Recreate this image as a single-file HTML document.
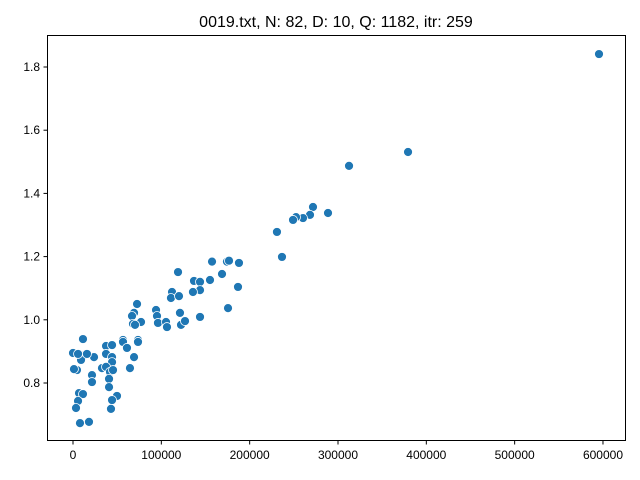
<!DOCTYPE html>
<html><head><meta charset="utf-8"><style>body{margin:0;background:#fff}svg{display:block;font-family:"Liberation Sans","DejaVu Sans",sans-serif}</style></head>
<body>
<svg id="chart" width="640" height="480">
<text x="336" y="27" text-anchor="middle" font-size="16">0019.txt, N: 82, D: 10, Q: 1182, itr: 259</text>
<g id="pts"></g>
<rect x="47.5" y="35.5" width="578" height="405" fill="none" stroke="#000" stroke-width="1"/>
<g id="ax"></g>
</svg>
<script>
const xs=[595500,312500,379300,271700,288700,268300,260400,252500,249100,230900,236600,157400,174300,176600,187900,118900,168700,155100,137000,143800,143800,135800,186800,112100,110900,120000,72500,175500,69100,66800,94000,95100,121100,143800,77000,67900,70200,96200,105300,106400,122300,126800,56600,73600,11300,0,7900,13600,9100,23800,37400,44200,56600,61100,73600,37400,44200,44200,69100,64500,2300,4500,32800,37400,41900,45300,21500,21500,40800,40800,6800,11300,5700,3400,49800,44200,43000,7900,18100,1100,5700,15800];
const ys=[1.841,1.487,1.531,1.357,1.338,1.332,1.322,1.325,1.316,1.278,1.199,1.184,1.184,1.187,1.180,1.151,1.145,1.126,1.123,1.120,1.094,1.088,1.104,1.088,1.069,1.075,1.050,1.037,1.022,1.012,1.031,1.012,1.022,1.009,0.993,0.987,0.984,0.990,0.993,0.977,0.984,0.996,0.936,0.936,0.939,0.895,0.889,0.889,0.873,0.882,0.917,0.920,0.930,0.911,0.930,0.892,0.882,0.866,0.882,0.847,0.844,0.841,0.847,0.851,0.835,0.841,0.825,0.803,0.813,0.787,0.768,0.765,0.743,0.721,0.759,0.746,0.718,0.673,0.677,0.844,0.892,0.892];
const xTicks=[0,100000,200000,300000,400000,500000,600000];
const yTicks=[0.8,1.0,1.2,1.4,1.6,1.8];
const NS="http://www.w3.org/2000/svg";
function sx(v){return 73+v*0.0008833;}
function sy(v){return 383-(v-0.8)*316;}
const pts=document.getElementById('pts'),ax=document.getElementById('ax');
for(let i=0;i<xs.length;i++){
 const c=document.createElementNS(NS,'circle');
 c.setAttribute('cx',sx(xs[i]));c.setAttribute('cy',sy(ys[i]));c.setAttribute('r',4.5);
 c.setAttribute('fill','#1f77b4');c.setAttribute('stroke','#fff');c.setAttribute('stroke-width','0.8');
 
 
 pts.appendChild(c);
}
xTicks.forEach(t=>{
 const x=sx(t);
 const l=document.createElementNS(NS,'line');
 l.setAttribute('x1',x);l.setAttribute('x2',x);l.setAttribute('y1',441);l.setAttribute('y2',444.5);l.setAttribute('stroke','#000');
 
 
 ax.appendChild(l);
 const tx=document.createElementNS(NS,'text');
 tx.setAttribute('x',x);tx.setAttribute('y',459);tx.setAttribute('text-anchor','middle');tx.setAttribute('font-size','12');
 tx.textContent=String(t);
 
 
 ax.appendChild(tx);
});
yTicks.forEach(t=>{
 const y=sy(t);
 const l=document.createElementNS(NS,'line');
 l.setAttribute('x1',43.5);l.setAttribute('x2',47);l.setAttribute('y1',y);l.setAttribute('y2',y);l.setAttribute('stroke','#000');
 
 
 ax.appendChild(l);
 const tx=document.createElementNS(NS,'text');
 tx.setAttribute('x',40);tx.setAttribute('y',y+4);tx.setAttribute('text-anchor','end');tx.setAttribute('font-size','12');
 tx.textContent=t.toFixed(1);
 
 
 ax.appendChild(tx);
});
</script>
</body></html>
